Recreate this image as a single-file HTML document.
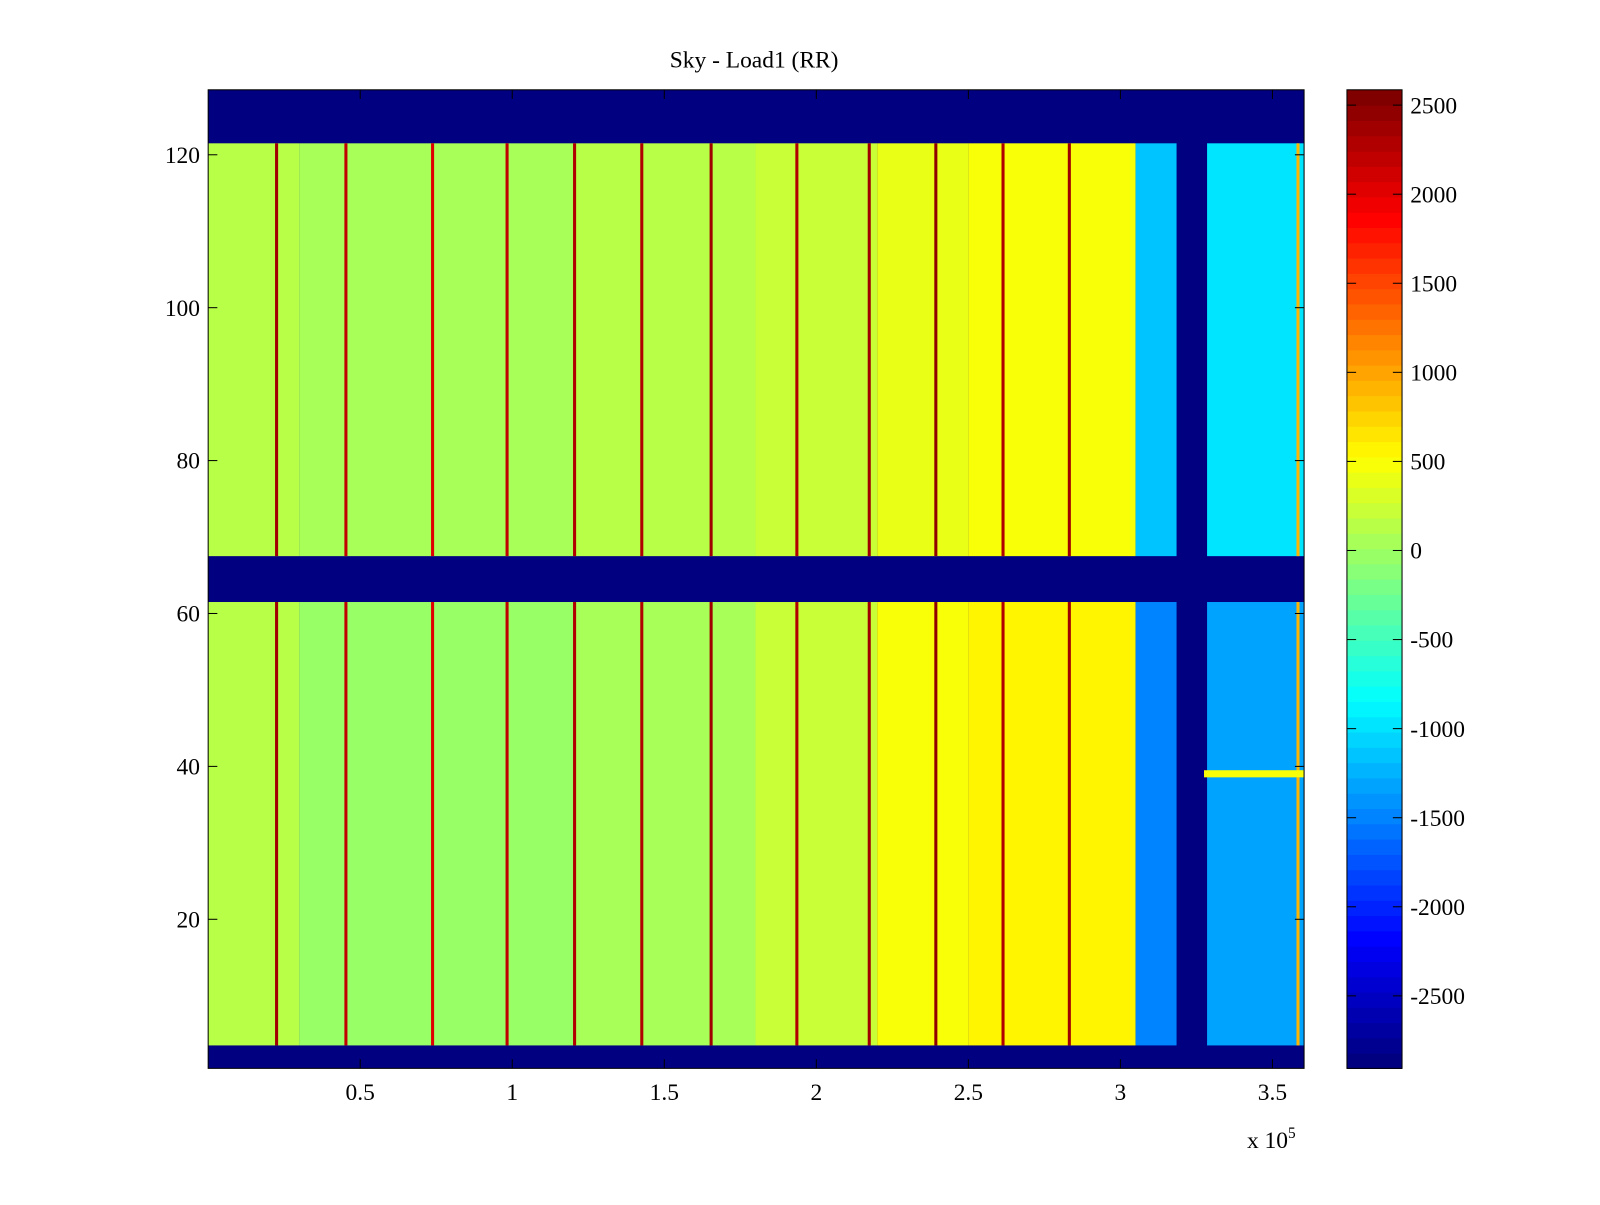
<!DOCTYPE html>
<html><head><meta charset="utf-8"><style>
body{margin:0;background:#fff;width:1600px;height:1200px;overflow:hidden}
svg text{font-family:"Liberation Serif",serif;font-size:23px;fill:#000}
</style></head><body>
<svg id="c" width="1600" height="1200" viewBox="0 0 1568 1176"></svg>
<script>
// ---- data ----
const segStart = [0, 30000, 120000, 180000, 220000, 250000, 305000, 318500, 328500];
const segValTop = [150, 50, 100, 250, 400, 500, -1150, -2900, -950];
const segValBot = [150, 0, 50, 200, 450, 550, -1500, -2900, -1350];
const lineX = [22500, 45300, 73800, 98300, 120500, 142600, 165400, 193600, 217400, 239300, 261400, 283200, 358400];
const lineVal = [2400, 2200, 2000, 2200, 2300, 2300, 2400, 2300, 2400, 2500, 2300, 2400, 900];
const emptyRows = [[0,3],[62,67],[122,128]];
const xTicks = [0.5,1,1.5,2,2.5,3,3.5];
const yTicks = [20,40,60,80,100,120];
const cTicks = [2500,2000,1500,1000,500,0,-500,-1000,-1500,-2000,-2500];
// ---- scales ----
const X0=204,X1=1278,Y0=88,Y1=1047;
const xMax=360400, yMin=0.5, yMax=128.5, cMin=-2907, cMax=2586;
const sx=v=>X0+v/xMax*(X1-X0);
const sy=v=>Y1-(v-yMin)/(yMax-yMin)*(Y1-Y0);
const CB0=1320,CB1=1374;
const sc=v=>Y1-(v-cMin)/(cMax-cMin)*(Y1-Y0);
function jet(t){t=Math.max(0,Math.min(1,t));
 const f=x=>Math.round(255*Math.max(0,Math.min(1,1.5-Math.abs(4*t-x))));
 return `rgb(${f(3)},${f(2)},${f(1)})`;}
const col=v=>{let t=(v-cMin)/(cMax-cMin);t=Math.floor(t*64)/63;return jet(t);}
const NS='http://www.w3.org/2000/svg', svg=document.getElementById('c');
function el(tag,attrs,parent){const e=document.createElementNS(NS,tag);for(const k in attrs)e.setAttribute(k,attrs[k]);(parent||svg).appendChild(e);return e;}
const bg=el('rect',{x:X0,y:Y0,width:X1-X0,height:Y1-Y0,fill:col(cMin)});


const g=el('g',{});


const bands=[[4,61,segValBot],[68,121,segValTop]];
bands.forEach(([r0,r1,vals])=>{
 for(let i=0;i<segStart.length;i++){
  const a=segStart[i],b=i+1<segStart.length?segStart[i+1]:xMax;
  const r=el('rect',{x:sx(a),y:sy(r1+0.5),width:sx(b)-sx(a),height:sy(r0-0.5)-sy(r1+0.5),fill:col(vals[i])},g);
  
  
 }
 lineX.forEach((lx,i)=>{
  if(lx>segStart[6]&&lx<segStart[7])return;
  const r=el('rect',{x:sx(lx)-1.5,y:sy(r1+0.5),width:3,height:sy(r0-0.5)-sy(r1+0.5),fill:col(lineVal[i])},g);
  
  
 });
});
const st=el('rect',{x:sx(segStart[8])-3,y:sy(39.5),width:X1-sx(segStart[8])+3,height:7,fill:col(500)},g);


const fr=el('rect',{x:X0,y:Y0,width:X1-X0,height:Y1-Y0,fill:'none',stroke:'#000','stroke-width':1});


xTicks.forEach(t=>{const x=sx(t*1e5);
 el('line',{x1:x,x2:x,y1:Y1,y2:Y1-9,stroke:'#000'});el('line',{x1:x,x2:x,y1:Y0,y2:Y0+9,stroke:'#000'});
 const tx=el('text',{x:x,y:1078,'text-anchor':'middle'});tx.textContent=t;
 
 });
yTicks.forEach(t=>{const y=sy(t);
 el('line',{x1:X0,x2:X0+9,y1:y,y2:y,stroke:'#000'});el('line',{x1:X1,x2:X1-9,y1:y,y2:y,stroke:'#000'});
 const tx=el('text',{x:196,y:y+8,'text-anchor':'end'});tx.textContent=t;
 
 });
const ex=el('text',{x:1222,y:1125});ex.innerHTML='x 10<tspan dy="-10" font-size="15">5</tspan>';


const ti=el('text',{x:739,y:66,'text-anchor':'middle','font-size':'24'});ti.textContent='Sky - Load1 (RR)';


const cb=el('g',{});


for(let i=0;i<64;i++){const h=(Y1-Y0)/64;
 el('rect',{x:CB0,y:Y1-(i+1)*h,width:CB1-CB0,height:h+0.6,fill:jet(i/63)},cb);}
el('rect',{x:CB0,y:Y0,width:CB1-CB0,height:Y1-Y0,fill:'none',stroke:'#000'},cb);
cTicks.forEach(t=>{const y=sc(t);
 el('line',{x1:CB0,x2:CB0+9,y1:y,y2:y,stroke:'#000'},cb);el('line',{x1:CB1,x2:CB1-9,y1:y,y2:y,stroke:'#000'},cb);
 const tx=el('text',{x:1382,y:y+8},cb);tx.textContent=t;
 
 });
</script>
</body></html>
